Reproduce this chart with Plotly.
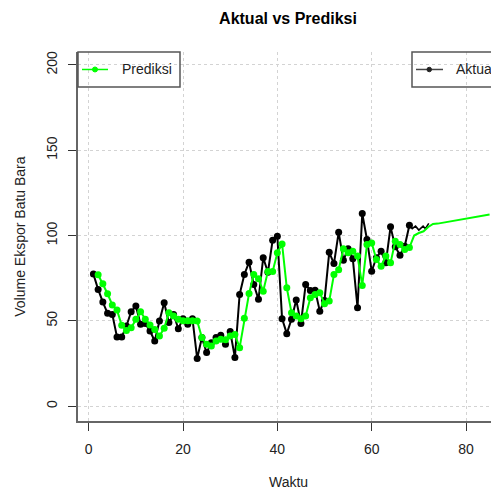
import plotly.graph_objects as go

# ---- data ----
waktu_aktual = list(range(1, 69))
aktual = [77.4, 68.4, 61.0, 54.4, 53.8, 40.5, 40.5, 47.0, 55.4, 58.7,
          48.0, 48.4, 44.0, 38.2, 49.9, 60.6, 49.0, 53.8, 45.4, 51.3,
          48.0, 51.3, 27.9, 40.2, 31.4, 37.2, 40.2, 41.5, 36.3, 43.7,
          28.5, 65.5, 77.2, 84.4, 71.3, 62.6, 87.0, 78.5, 97.3, 99.6,
          51.3, 42.5, 50.9, 62.2, 48.5, 71.3, 67.8, 68.0, 55.7, 62.0,
          90.2, 83.6, 101.9, 85.6, 92.2, 86.4, 57.7, 112.9, 97.7, 79.1,
          87.0, 90.8, 84.0, 105.1, 93.5, 88.5, 93.7, 106.1]
# tail of the actual line drawn without markers
waktu_aktual_ext = [68, 68.6, 69.3, 70.0, 70.9, 71.4, 72.1]
aktual_ext = [106.1, 104.0, 105.5, 103.2, 105.5, 104.0, 107.1]

waktu_prediksi = list(range(2, 69))
prediksi = [77.0, 71.7, 65.9, 59.3, 56.3, 47.4, 44.4, 46.0, 50.9,
            55.4, 51.0, 47.6, 45.0, 41.1, 45.6, 54.8, 52.8, 50.9, 50.0,
            50.0, 50.0, 49.9, 40.2, 36.3, 35.3, 38.2, 39.2, 39.0, 41.1,
            42.0, 34.3, 51.5, 66.0, 77.2, 74.7, 67.4, 79.0, 79.0, 89.9,
            95.1, 69.4, 54.8, 52.8, 51.3, 52.8, 63.5, 65.5, 66.5, 60.0,
            61.6, 77.2, 80.0, 92.2, 89.9, 90.8, 88.0, 70.8, 94.7, 95.7,
            86.0, 82.0, 88.0, 84.0, 96.7, 94.7, 91.8, 93.0]
# forecast continuation drawn as a plain line
waktu_prediksi_ext = [68, 69, 70, 71, 72, 73, 74, 85]
prediksi_ext = [93.0, 100.0, 101.5, 102.5, 105.0, 106.8, 107.0, 112.3]

x_ticks = [0, 20, 40, 60, 80]
y_ticks = [0, 50, 100, 150, 200]

GREEN = "#00ff00"
FONT = "Liberation Sans, Arial, sans-serif"

fig = go.Figure()
fig.add_trace(go.Scatter(x=waktu_aktual, y=aktual, mode="lines+markers",
                         line=dict(color="black", width=2),
                         marker=dict(color="black", size=7), showlegend=False))
fig.add_trace(go.Scatter(x=waktu_aktual_ext, y=aktual_ext, mode="lines",
                         line=dict(color="black", width=1.6), showlegend=False))
fig.add_trace(go.Scatter(x=waktu_prediksi_ext, y=prediksi_ext, mode="lines",
                         line=dict(color=GREEN, width=2), showlegend=False))
fig.add_trace(go.Scatter(x=waktu_prediksi, y=prediksi, mode="lines+markers",
                         line=dict(color=GREEN, width=2),
                         marker=dict(color=GREEN, size=7), showlegend=False))

L, R, T, B = 78, 491, 52, 421.5
W = R - L
H = B - T

def px(xp):
    return (xp - L) / W

def py(yp):
    return (B - yp) / H

shapes = []
# legend boxes (transparent)
shapes.append(dict(type="rect", xref="paper", yref="paper",
                   x0=px(78), x1=px(180), y0=py(87), y1=py(52),
                   line=dict(color="#555", width=1.5)))
shapes.append(dict(type="rect", xref="paper", yref="paper",
                   x0=px(412), x1=px(520), y0=py(87), y1=py(52),
                   line=dict(color="#555", width=1.5)))
# legend line samples
shapes.append(dict(type="line", xref="paper", yref="paper",
                   x0=px(82), x1=px(108), y0=py(69.5), y1=py(69.5),
                   line=dict(color=GREEN, width=1.5)))
shapes.append(dict(type="circle", xref="paper", yref="paper",
                   x0=px(92.5), x1=px(97.5), y0=py(72), y1=py(67),
                   line=dict(color=GREEN, width=1), fillcolor=GREEN))
shapes.append(dict(type="line", xref="paper", yref="paper",
                   x0=px(416), x1=px(443), y0=py(69.5), y1=py(69.5),
                   line=dict(color="#444", width=1.5)))
shapes.append(dict(type="circle", xref="paper", yref="paper",
                   x0=px(427), x1=px(431.5), y0=py(71.8), y1=py(67.3),
                   line=dict(color="#222", width=1), fillcolor="#222"))

annotations = [
    dict(text="Prediksi", xref="paper", yref="paper", x=px(120), y=py(69.5),
         xanchor="left", yanchor="middle", showarrow=False,
         font=dict(size=14, color="#222", family=FONT)),
    dict(text="Aktual", xref="paper", yref="paper", x=px(454), y=py(69.5),
         xanchor="left", yanchor="middle", showarrow=False,
         font=dict(size=14, color="#222", family=FONT)),
    dict(text="Waktu", xref="paper", yref="paper", x=px(288), y=py(483),
         xanchor="center", yanchor="middle", showarrow=False,
         font=dict(size=14, color="#222", family=FONT)),
    dict(text="Volume Ekspor Batu Bara", xref="paper", yref="paper",
         x=px(20), y=py(237), xanchor="center", yanchor="middle",
         textangle=-90, showarrow=False,
         font=dict(size=14, color="#222", family=FONT)),
]

fig.update_layout(
    width=491, height=491,
    margin=dict(l=L, r=0, t=T, b=491 - B, pad=0),
    paper_bgcolor="white", plot_bgcolor="white",
    font=dict(family=FONT, size=14, color="#222"),
    title=dict(text="<b>Aktual vs Prediksi</b>", x=288 / 491, xref="container",
               xanchor="center", y=1 - 18 / 491, yref="container",
               yanchor="middle", font=dict(size=16, color="black", family=FONT)),
    shapes=shapes, annotations=annotations,
)
fig.update_xaxes(range=[-2.27, 85.3], tickvals=x_ticks, showgrid=True,
                 gridcolor="#d3d3d3", griddash="dot", gridwidth=1,
                 zeroline=False, showline=True, linecolor="#666", linewidth=1.5,
                 ticks="outside", ticklen=8, tickcolor="#333", tickwidth=1,
                 tickfont=dict(size=14, color="#222"), ticklabelstandoff=6)
fig.update_yaxes(range=[-8.7, 207.6], tickvals=y_ticks, showgrid=True,
                 gridcolor="#d3d3d3", griddash="dot", gridwidth=1,
                 zeroline=False, showline=True, linecolor="#666", linewidth=1.5,
                 ticks="outside", ticklen=8, tickcolor="#333", tickwidth=1,
                 tickangle=-90, tickfont=dict(size=14, color="#222"),
                 ticklabelstandoff=6)

fig.write_html("out.html")
